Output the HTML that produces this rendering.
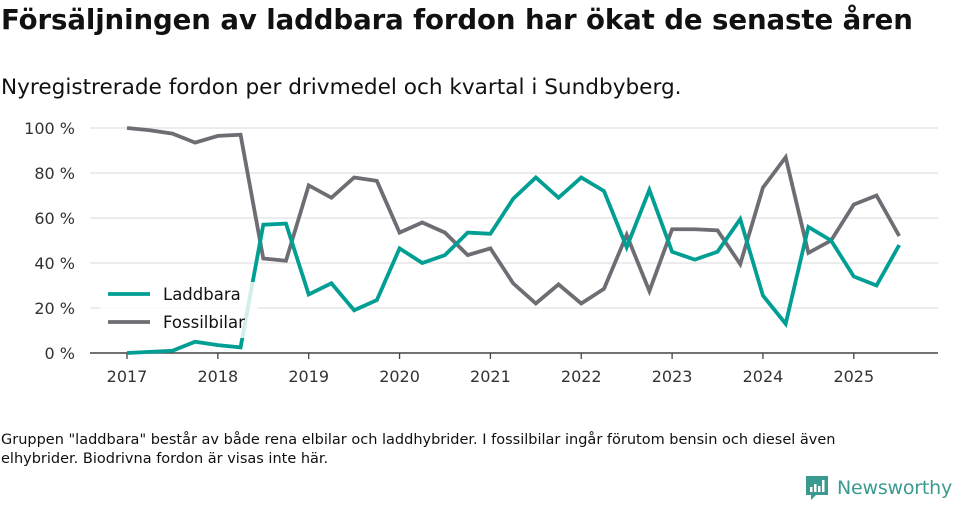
<!DOCTYPE html>
<html><head><meta charset="utf-8"><style>
body{margin:0;width:960px;height:505px;background:#fff;font-family:"DejaVu Sans","Liberation Sans",sans-serif;color:#111;position:relative;overflow:hidden}
.t{position:absolute;left:1px;top:3px;font-size:27.6px;font-weight:bold;letter-spacing:-0.1px}
.s{position:absolute;left:1px;top:75px;font-size:21.6px}
.f{position:absolute;left:1px;top:431px;font-size:14.5px;line-height:19px;width:900px}
.logo{position:absolute;left:804px;top:474px;display:flex;align-items:center;color:#3a9a8f;font-size:19px;letter-spacing:-0.2px}
</style></head><body>
<div class="t">Försäljningen av laddbara fordon har ökat de senaste åren</div>
<div class="s">Nyregistrerade fordon per drivmedel och kvartal i Sundbyberg.</div>
<svg id="c" width="960" height="505" style="position:absolute;left:0;top:0"></svg>
<div class="f">Gruppen "laddbara" består av både rena elbilar och laddhybrider. I fossilbilar ingår förutom bensin och diesel även elhybrider. Biodrivna fordon är visas inte här.</div>
<div class="logo">
<svg width="26" height="28" viewBox="0 0 26 28"><path d="M2 2h22v19H12l-5 5v-5H2z" fill="#3a9a8f"/><rect x="6" y="13" width="2.5" height="5" fill="#fff"/><rect x="10" y="10" width="2.5" height="8" fill="#fff"/><rect x="14" y="12" width="2.5" height="6" fill="#fff"/><rect x="18" y="6" width="2.5" height="12" fill="#fff"/></svg>
<span style="margin-left:7px">Newsworthy</span></div>
<script>
const startYear = 2017;
const yTicks = [0,20,40,60,80,100];
const xTickYears = [2017,2018,2019,2020,2021,2022,2023,2024,2025];
const laddbara = [0,0.5,1,5,3.5,2.5,57,57.5,26,31,19,23.5,46.5,40,43.5,53.5,53,68.5,78,69,78,72,47,72.5,45,41.5,45,59.5,25.5,13,56,50,34,30,48];
const fossil = [100,99,97.5,93.5,96.5,97,42,41,74.5,69,78,76.5,53.5,58,53.5,43.5,46.5,31,22,30.5,22,28.5,52.5,27.5,55,55,54.5,39.5,73.5,87,44.5,50,66,70,52];
const NS='http://www.w3.org/2000/svg', svg=document.getElementById('c');
const x0=127, yearW=90.85, yTop=128, yBot=353;
const xq=i=>x0+i*yearW/4, xy=y=>x0+(y-startYear)*yearW, yv=v=>yBot-(v/100)*(yBot-yTop);
function mk(t,a){const e=document.createElementNS(NS,t);for(const k in a)e.setAttribute(k,a[k]);svg.appendChild(e);return e;}
yTicks.forEach(v=>{
 if(v>0){const g=mk('line',{x1:90,x2:938,y1:yv(v),y2:yv(v),stroke:'#e0e0e0','stroke-width':1.3});
 
 }
 const t=mk('text',{x:75,y:yv(v)+6,'text-anchor':'end','font-size':16,fill:'#333'});t.textContent=v+' %';
 
 
});
const ax=mk('line',{x1:90,x2:938,y1:yBot,y2:yBot,stroke:'#444','stroke-width':1.5});


xTickYears.forEach(y=>{
 const l=mk('line',{x1:xy(y),x2:xy(y),y1:yBot,y2:yBot+6,stroke:'#444','stroke-width':1.3});
 
 
 const t=mk('text',{x:xy(y),y:yBot+29,'text-anchor':'middle','font-size':16,fill:'#333'});t.textContent=y;
 
 
});
function line(d,c,n){const p=mk('polyline',{points:d.map((v,i)=>xq(i)+','+yv(v)).join(' '),fill:'none',stroke:c,'stroke-width':3.8,'stroke-linejoin':'miter'});
 
 }
line(fossil,'#6f6d74','fossilbilar-line');
line(laddbara,'#009e93','laddbara-line');
const lg=mk('rect',{x:100,y:282,width:158,height:56,fill:'#fff','fill-opacity':0.82});


[['Laddbara','#009e93',294],['Fossilbilar','#6f6d74',322]].forEach(([n,c,y])=>{
 const l=mk('line',{x1:108,x2:150,y1:y,y2:y,stroke:c,'stroke-width':3.8});
 
 
 const t=mk('text',{x:163,y:y+6,'font-size':16.5,fill:'#111'});t.textContent=n;
 
 
});
</script>
</body></html>
